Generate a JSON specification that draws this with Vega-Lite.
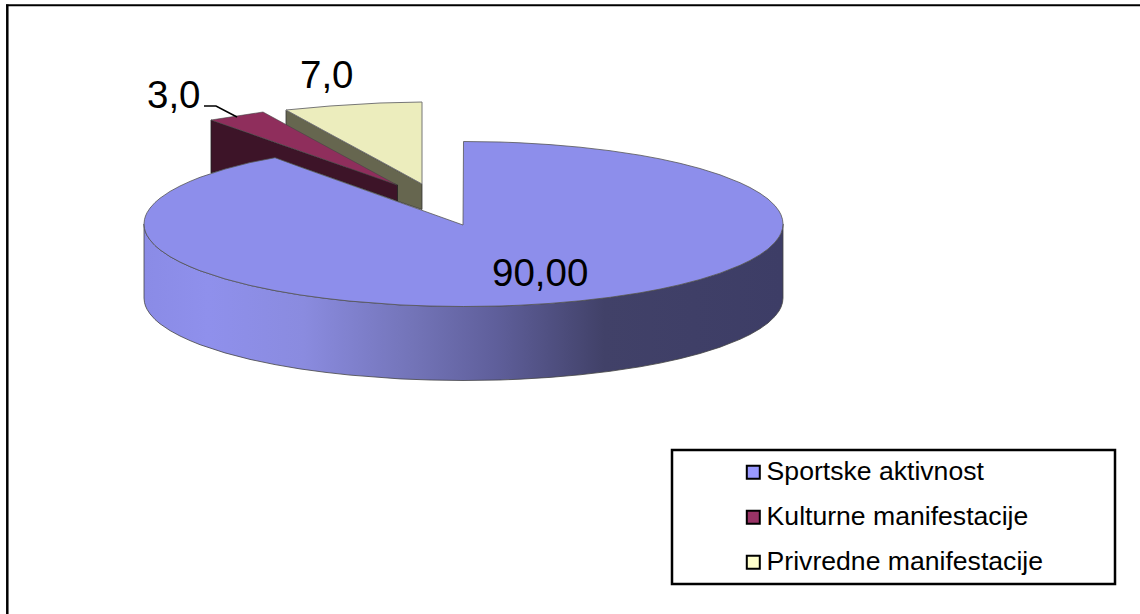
{
"$schema":"https://vega.github.io/schema/vega-lite/v6.json",
"width":1140,"height":614,"padding":0,"autosize":{"type":"none"},
"background":"white","view":{"stroke":null},
"datasets":{
"slices":[{"kategorija":"Sportske aktivnost","vrijednost":"90,00"},{"kategorija":"Kulturne manifestacije","vrijednost":"3,0"},{"kategorija":"Privredne manifestacije","vrijednost":"7,0"}],
"olive":[{"x":286,"y":110,"y2":125},{"x":397,"y":170.5,"y2":201},{"x":422,"y":184,"y2":209.5}],
"yellow":[{"x":286,"y":110,"y2":110},{"x":330,"y":106,"y2":134},{"x":380,"y":103,"y2":161},{"x":422,"y":102,"y2":184}],
"dark":[{"x":211,"y":120,"y2":173},{"x":250,"y":133.6,"y2":163},{"x":275,"y":142.4,"y2":158},{"x":397.5,"y":185,"y2":201}],
"magenta":[{"x":211,"y":120,"y2":120},{"x":263,"y":112,"y2":138},{"x":397,"y":185,"y2":185}],
"side":[{"x":144,"y":224,"y2":298},{"x":144.5,"y":228.6,"y2":302.6},{"x":145.5,"y":232,"y2":306},{"x":147,"y":235.3,"y2":309.3},{"x":150,"y":239.9,"y2":313.9},{"x":155,"y":245.5,"y2":319.5},{"x":160,"y":249.8,"y2":323.8},{"x":170,"y":256.6,"y2":330.6},{"x":180,"y":262,"y2":336},{"x":190,"y":266.6,"y2":340.6},{"x":200,"y":270.7,"y2":344.7},{"x":225,"y":278.9,"y2":352.9},{"x":250,"y":285.4,"y2":359.4},{"x":275,"y":290.6,"y2":364.6},{"x":300,"y":294.9,"y2":368.9},{"x":325,"y":298.3,"y2":372.3},{"x":350,"y":301.1,"y2":375.1},{"x":400,"y":304.9,"y2":378.9},{"x":430,"y":306,"y2":380},{"x":463,"y":306.5,"y2":380.5},{"x":500,"y":306,"y2":380},{"x":520,"y":305.2,"y2":379.2},{"x":550,"y":303.4,"y2":377.4},{"x":580,"y":300.8,"y2":374.8},{"x":610,"y":297.3,"y2":371.3},{"x":640,"y":292.8,"y2":366.8},{"x":660,"y":289.1,"y2":363.1},{"x":680,"y":284.7,"y2":358.7},{"x":700,"y":279.5,"y2":353.5},{"x":720,"y":273.2,"y2":347.2},{"x":740,"y":265.3,"y2":339.3},{"x":750,"y":260.5,"y2":334.5},{"x":760,"y":254.7,"y2":328.7},{"x":768,"y":249,"y2":323},{"x":775,"y":242.3,"y2":316.3},{"x":779,"y":237,"y2":311},{"x":781,"y":233.2,"y2":307.2},{"x":782.5,"y":228.6,"y2":302.6},{"x":783,"y":224,"y2":298}],
"top":[{"x":144,"y":224,"y2":224},{"x":144.5,"y":219.4,"y2":228.6},{"x":145.5,"y":216,"y2":232},{"x":147,"y":212.7,"y2":235.3},{"x":150,"y":208.1,"y2":239.9},{"x":155,"y":202.5,"y2":245.5},{"x":160,"y":198.2,"y2":249.8},{"x":170,"y":191.4,"y2":256.6},{"x":180,"y":186,"y2":262},{"x":190,"y":181.4,"y2":266.6},{"x":200,"y":177.3,"y2":270.7},{"x":225,"y":169.1,"y2":278.9},{"x":250,"y":162.6,"y2":285.4},{"x":275,"y":157.7,"y2":290.6},{"x":300,"y":166.9,"y2":294.9},{"x":325,"y":175.8,"y2":298.3},{"x":350,"y":184.7,"y2":301.1},{"x":400,"y":202.5,"y2":304.9},{"x":430,"y":213.2,"y2":306},{"x":463,"y":225,"y2":306.5},{"x":463.5,"y":141.5,"y2":306.5},{"x":500,"y":142,"y2":306},{"x":520,"y":142.8,"y2":305.2},{"x":550,"y":144.6,"y2":303.4},{"x":580,"y":147.2,"y2":300.8},{"x":610,"y":150.7,"y2":297.3},{"x":640,"y":155.2,"y2":292.8},{"x":660,"y":158.9,"y2":289.1},{"x":680,"y":163.3,"y2":284.7},{"x":700,"y":168.5,"y2":279.5},{"x":720,"y":174.8,"y2":273.2},{"x":740,"y":182.7,"y2":265.3},{"x":750,"y":187.5,"y2":260.5},{"x":760,"y":193.3,"y2":254.7},{"x":768,"y":199,"y2":249},{"x":775,"y":205.7,"y2":242.3},{"x":779,"y":211,"y2":237},{"x":781,"y":214.8,"y2":233.2},{"x":782.5,"y":219.4,"y2":228.6},{"x":783,"y":224,"y2":224}],
"leader":[{"x":204,"y":106},{"x":216,"y":106},{"x":237,"y":117}]
},
"layer":[
{"data":{"values":[{}]},"mark":{"type":"rule","color":"black","strokeWidth":2.5},
 "encoding":{"x":{"datum":7.3,"type":"quantitative","scale":{"domain":[0,1140],"nice":false,"zero":false},"axis":null},"y":{"datum":4.5,"type":"quantitative","scale":{"domain":[0,614],"reverse":true,"nice":false,"zero":false},"axis":null},"y2":{"datum":614}}},
{"data":{"values":[{}]},"mark":{"type":"rule","color":"black","strokeWidth":2},
 "encoding":{"x":{"datum":6,"type":"quantitative"},"x2":{"datum":1140},"y":{"datum":5.2,"type":"quantitative"}}},
{"data":{"name":"olive"},"mark":{"type":"area","fill":"#66664f","stroke":"#333333","strokeWidth":0.8},"encoding":{"x":{"field":"x","type":"quantitative"},"y":{"field":"y","type":"quantitative"},"y2":{"field":"y2"}}},
{"data":{"name":"yellow"},"mark":{"type":"area","fill":"#ecedbd","stroke":"#777777","strokeWidth":1},"encoding":{"x":{"field":"x","type":"quantitative"},"y":{"field":"y","type":"quantitative"},"y2":{"field":"y2"}}},
{"data":{"name":"dark"},"mark":{"type":"area","fill":"#3d1428","stroke":"#222222","strokeWidth":0.8},"encoding":{"x":{"field":"x","type":"quantitative"},"y":{"field":"y","type":"quantitative"},"y2":{"field":"y2"}}},
{"data":{"name":"magenta"},"mark":{"type":"area","fill":"#8f2e5c","stroke":"#444444","strokeWidth":0.6},"encoding":{"x":{"field":"x","type":"quantitative"},"y":{"field":"y","type":"quantitative"},"y2":{"field":"y2"}}},
{"data":{"name":"side"},"mark":{"type":"area","stroke":"#444444","strokeWidth":0.8,"fill":{"gradient":"linear","x1":0,"x2":1,"y1":0,"y2":0,"stops":[{"offset":0,"color":"#8a8be6"},{"offset":0.1,"color":"#8f90ec"},{"offset":0.25,"color":"#8a8bdf"},{"offset":0.42,"color":"#7374b8"},{"offset":0.55,"color":"#5f5f9b"},{"offset":0.72,"color":"#414168"},{"offset":1,"color":"#3d3d66"}]}},"encoding":{"x":{"field":"x","type":"quantitative"},"y":{"field":"y","type":"quantitative"},"y2":{"field":"y2"}}},
{"data":{"name":"top"},"mark":{"type":"area","fill":"#8d8eeb","stroke":"#555555","strokeWidth":0.8},"encoding":{"x":{"field":"x","type":"quantitative"},"y":{"field":"y","type":"quantitative"},"y2":{"field":"y2"}}},
{"data":{"name":"leader"},"mark":{"type":"line","color":"black","strokeWidth":1.5},"encoding":{"x":{"field":"x","type":"quantitative"},"y":{"field":"y","type":"quantitative"}}},
{"data":{"name":"slices"},"transform":[{"filter":"datum.vrijednost=='90,00'"}],"mark":{"type":"text","font":"Liberation Sans","fontSize":38.5,"align":"left","baseline":"alphabetic","color":"black"},"encoding":{"x":{"datum":492,"type":"quantitative"},"y":{"datum":286,"type":"quantitative"},"text":{"field":"vrijednost"}}},
{"data":{"name":"slices"},"transform":[{"filter":"datum.vrijednost=='3,0'"}],"mark":{"type":"text","font":"Liberation Sans","fontSize":38.5,"align":"left","baseline":"alphabetic","color":"black"},"encoding":{"x":{"datum":147,"type":"quantitative"},"y":{"datum":108,"type":"quantitative"},"text":{"field":"vrijednost"}}},
{"data":{"name":"slices"},"transform":[{"filter":"datum.vrijednost=='7,0'"}],"mark":{"type":"text","font":"Liberation Sans","fontSize":38.5,"align":"left","baseline":"alphabetic","color":"black"},"encoding":{"x":{"datum":300,"type":"quantitative"},"y":{"datum":88,"type":"quantitative"},"text":{"field":"vrijednost"}}},
{"data":{"values":[{}]},"mark":{"type":"rect","fill":"white","stroke":"black","strokeWidth":2.5},"encoding":{"x":{"datum":672,"type":"quantitative"},"x2":{"datum":1115},"y":{"datum":450,"type":"quantitative"},"y2":{"datum":584}}},
{"data":{"name":"slices"},"mark":{"type":"point","opacity":0,"filled":true},"encoding":{"x":{"datum":900,"type":"quantitative"},"y":{"datum":520,"type":"quantitative"},"color":{"field":"kategorija","type":"nominal","sort":null,"scale":{"domain":["Sportske aktivnost","Kulturne manifestacije","Privredne manifestacije"],"range":["#9999ff","#993366","#ffffcc"]},"legend":{"title":null,"orient":"none","legendX":740,"legendY":459,"padding":0,"symbolType":"square","symbolSize":169,"symbolOpacity":1,"symbolStrokeColor":"black","symbolStrokeWidth":2,"labelFont":"Liberation Sans","labelFontSize":26.6,"labelColor":"black","labelOffset":0,"rowPadding":18,"labelLimit":400}}}}
]
}
